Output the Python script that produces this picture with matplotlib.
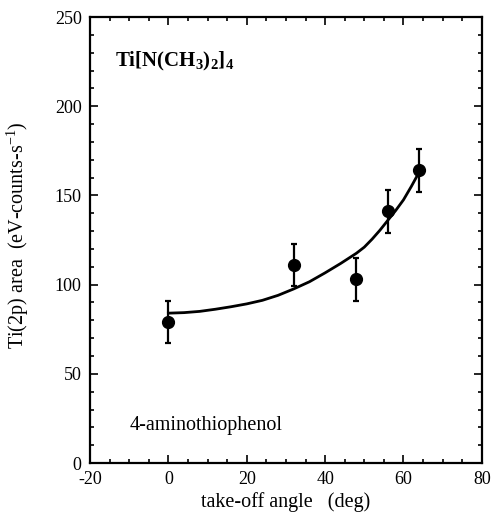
import matplotlib
matplotlib.use("Agg")
import matplotlib.pyplot as plt
from matplotlib.ticker import MultipleLocator

plt.rcParams['font.family'] = ['Liberation Serif', 'DejaVu Serif']
plt.rcParams['mathtext.fontset'] = 'custom'
plt.rcParams['mathtext.rm'] = 'Liberation Serif'
plt.rcParams['mathtext.it'] = 'Liberation Serif:italic'
plt.rcParams['mathtext.bf'] = 'Liberation Serif:bold'
plt.rcParams['axes.unicode_minus'] = False

# measured points
angle = [0, 32, 48, 56, 64]
area = [79, 111, 103, 141, 164]
err = [12, 12, 12, 12, 12]

# fitted curve
fit_angle = [0, 4, 8, 12, 16, 20, 24, 28, 32, 36, 40, 44, 48, 50, 52, 54,
             56, 58, 60, 62, 64]
fit_area = [84, 84.3, 85, 86.2, 87.6, 89.2, 91.2, 94, 97.6, 101.6, 106.6,
            111.9, 117.6, 121, 125.5, 130.5, 136, 141.5, 147.5, 155, 163]

fig = plt.figure(figsize=(4.91, 5.27), dpi=100)
ax = fig.add_axes([0.1833, 0.1214, 0.798, 0.8463])

ax.plot(fit_angle, fit_area, color='black', lw=2.0, zorder=2,
        solid_joinstyle='round')
ax.errorbar(angle, area, yerr=err, fmt='o', color='black', ms=8.5,
            elinewidth=1.6, capsize=2.4, capthick=1.6, zorder=3)

ax.set_xlim(-20, 80)
ax.set_ylim(0, 250)
ax.xaxis.set_major_locator(MultipleLocator(20))
ax.xaxis.set_minor_locator(MultipleLocator(5))
ax.yaxis.set_major_locator(MultipleLocator(50))
ax.yaxis.set_minor_locator(MultipleLocator(10))
ax.tick_params(which='both', direction='in', top=True, right=True,
               labelsize=13, width=1.2, pad=6)
ax.tick_params(which='major', length=6)
ax.tick_params(which='minor', length=3)
for s in ax.spines.values():
    s.set_linewidth(1.6)

ax.set_xlabel('take-off angle   (deg)', fontsize=14.5, labelpad=3)
ax.set_ylabel(r'Ti(2p) area  (eV-counts-s$^{-1}$)', fontsize=14.5)
ax.yaxis.set_label_coords(-0.15, 0.51)

ax.text(0.064, 0.888, r'$\mathbf{Ti[N(CH_3)_2]_4}$', transform=ax.transAxes,
        fontsize=15, va='baseline')
ax.text(0.102, 0.074, '4-aminothiophenol', transform=ax.transAxes,
        fontsize=14.5, va='baseline')

fig.savefig('out.png', dpi=100)
